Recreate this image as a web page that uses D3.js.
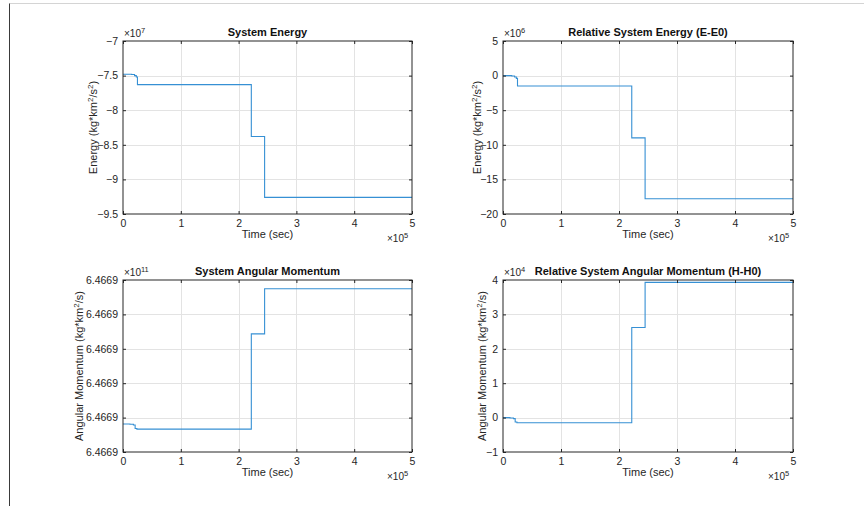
<!DOCTYPE html>
<html><head><meta charset="utf-8">
<script src="https://d3js.org/d3.v7.min.js"></script>
<style>
body{margin:0;background:#fff;}
svg{display:block;font-family:"Liberation Sans",Arial,Helvetica,sans-serif;}
</style></head>
<body><svg id="c" width="864" height="506"></svg>
<script>
// ---- data ----
const timeEnergy = [0, 15000, 20000, 23000, 25000, 222000, 245000, 500000];
const relEnergy  = [0, -0.05e6, -0.2e6, -0.4e6, -1.5e6, -9.0e6, -17.8e6, -17.8e6];
const E0 = -7.48e7;
const timeMomentum = [0, 12000, 18000, 21000, 24000, 222000, 245000, 500000];
const relMomentum  = [0, -100, -300, -1300, -1500, 26200, 39300, 39300];
const Hbase = 646690000000;
const H0 = Hbase + 8150;
const xTicks = [0, 1e5, 2e5, 3e5, 4e5, 5e5];
const energyTicks = [-9.5e7, -9e7, -8.5e7, -8e7, -7.5e7, -7e7];
const relEnergyTicks = [-20e6, -15e6, -10e6, -5e6, 0, 5e6];
const momentumTicks = [0, 1e4, 2e4, 3e4, 4e4, 5e4].map(d => Hbase + d);
const relMomentumTicks = [-1e4, 0, 1e4, 2e4, 3e4, 4e4];
const titles = ["System Energy", "Relative System Energy (E-E0)", "System Angular Momentum", "Relative System Angular Momentum (H-H0)"];

const absEnergy = relEnergy.map(v => E0 + v);
const absMomentum = relMomentum.map(v => H0 + v);

const svg = d3.select("#c");
const TXT = "#262626";

// frame lines
svg.append("line").attr("x1", 9.5).attr("x2", 864).attr("y1", 3.5).attr("y2", 3.5).attr("stroke", "#d4d4d4");
svg.append("line").attr("x1", 9.5).attr("x2", 9.5).attr("y1", 3.5).attr("y2", 506).attr("stroke", "#3a3a3a");

function panel(o) {
  const x = d3.scaleLinear().domain([0, 5e5]).range([o.x0, o.x1]);
  const y = d3.scaleLinear().domain(o.ydom).range([o.y1, o.y0]);
  const g = svg.append("g");
  // grid
  g.selectAll(".gx").data(xTicks.slice(1, -1)).join("line")
    .attr("x1", d => Math.round(x(d)) + 0.5).attr("x2", d => Math.round(x(d)) + 0.5)
    .attr("y1", o.y0).attr("y2", o.y1).attr("stroke", "#e3e3e3");
  g.selectAll(".gy").data(o.yTicks.slice(1, -1)).join("line")
    .attr("y1", d => Math.round(y(d)) + 0.5).attr("y2", d => Math.round(y(d)) + 0.5)
    .attr("x1", o.x0).attr("x2", o.x1).attr("stroke", "#e3e3e3");
  // line
  const pts = o.t.map((t, i) => [t, o.v[i]]);
  g.append("path").datum(pts)
    .attr("d", d3.line().x(d => x(d[0])).y(d => y(d[1])).curve(d3.curveStepAfter))
    .attr("fill", "none").attr("stroke", "#3690d4").attr("stroke-width", 1.1);
  // axes with inside ticks on all sides
  const tl = 3;
  const fmtX = d => d3.format("")(d / 1e5);
  const ax = g.append("g").attr("transform", `translate(0,${o.y1})`)
    .call(d3.axisBottom(x).tickValues(xTicks).tickSizeInner(-tl).tickSizeOuter(0).tickPadding(4).tickFormat(fmtX));
  const axT = g.append("g").attr("transform", `translate(0,${o.y0})`)
    .call(d3.axisTop(x).tickValues(xTicks).tickSizeInner(-tl).tickSizeOuter(0).tickFormat(""));
  const ay = g.append("g").attr("transform", `translate(${o.x0},0)`)
    .call(d3.axisLeft(y).tickValues(o.yTicks).tickSizeInner(-tl).tickSizeOuter(0).tickPadding(5).tickFormat(o.fmt));
  const ayR = g.append("g").attr("transform", `translate(${o.x1},0)`)
    .call(d3.axisRight(y).tickValues(o.yTicks).tickSizeInner(-tl).tickSizeOuter(0).tickFormat(""));
  [ax, axT, ay, ayR].forEach(a => {
    a.select(".domain").remove();
    a.selectAll("line").attr("stroke", TXT);
    a.selectAll("text").attr("fill", TXT).attr("font-size", 10.5).attr("font-family", null);
  });
  ax.selectAll("text").attr("dy", "0.85em");
  // box
  g.append("rect").attr("x", o.x0).attr("y", o.y0).attr("width", o.x1 - o.x0).attr("height", o.y1 - o.y0)
    .attr("fill", "none").attr("stroke", TXT).attr("stroke-width", 1);
  // title
  g.append("text").attr("x", (o.x0 + o.x1) / 2).attr("y", o.y0 - 5).attr("text-anchor", "middle")
    .attr("font-size", 11).attr("font-weight", "bold").attr("fill", "#111").text(o.title);
  // x label
  g.append("text").attr("x", (o.x0 + o.x1) / 2).attr("y", o.y1 + 24).attr("text-anchor", "middle")
    .attr("font-size", 11).attr("fill", TXT).text("Time (sec)");
  // exponent labels
  const ex = g.append("text").attr("x", o.x1 - 25).attr("y", o.y1 + 28).attr("font-size", 10).attr("fill", TXT);
  ex.append("tspan").text("\u00d710");
  ex.append("tspan").attr("dy", -4).attr("font-size", 7.5).text("5");
  const ey = g.append("text").attr("x", o.x0 + 1).attr("y", o.y0 - 4).attr("font-size", 10).attr("fill", TXT);
  ey.append("tspan").text("\u00d710");
  ey.append("tspan").attr("dy", -4).attr("font-size", 7.5).text(o.yExp);
  // y label
  const yl = g.append("text").attr("transform", `translate(${o.ylx},${(o.y0 + o.y1) / 2}) rotate(-90)`)
    .attr("text-anchor", "middle").attr("font-size", 11).attr("fill", TXT);
  o.ylab.forEach(p => {
    if (p.sup) yl.append("tspan").attr("dy", -4).attr("font-size", 8).text(p.s);
    else yl.append("tspan").attr("dy", p.after ? 4 : 0).text(p.s);
  });
}

const energyLabel = [{s: "Energy (kg*km"}, {s: "2", sup: true}, {s: "/s", after: true}, {s: "2", sup: true}, {s: ")", after: true}];
const momLabel = [{s: "Angular Momentum (kg*km"}, {s: "2", sup: true}, {s: "/s)", after: true}];

panel({x0: 123, x1: 412, y0: 41, y1: 214, ydom: [-9.5e7, -7e7], yTicks: energyTicks,
  fmt: d => d3.format("")(+(d / 1e7).toFixed(2)), yExp: "7", t: timeEnergy, v: absEnergy,
  title: titles[0], ylab: energyLabel, ylx: 97});
panel({x0: 503, x1: 793, y0: 41, y1: 214, ydom: [-20e6, 5e6], yTicks: relEnergyTicks,
  fmt: d => d3.format("")(d / 1e6), yExp: "6", t: timeEnergy, v: relEnergy,
  title: titles[1], ylab: energyLabel, ylx: 481});
panel({x0: 123, x1: 412, y0: 280, y1: 452, ydom: [Hbase, Hbase + 5e4], yTicks: momentumTicks,
  fmt: d => (d / 1e11).toFixed(4), yExp: "11", t: timeMomentum, v: absMomentum,
  title: titles[2], ylab: momLabel, ylx: 83});
panel({x0: 503, x1: 793, y0: 280, y1: 452, ydom: [-1e4, 4e4], yTicks: relMomentumTicks,
  fmt: d => d3.format("")(d / 1e4), yExp: "4", t: timeMomentum, v: relMomentum,
  title: titles[3], ylab: momLabel, ylx: 486});
</script></body></html>
